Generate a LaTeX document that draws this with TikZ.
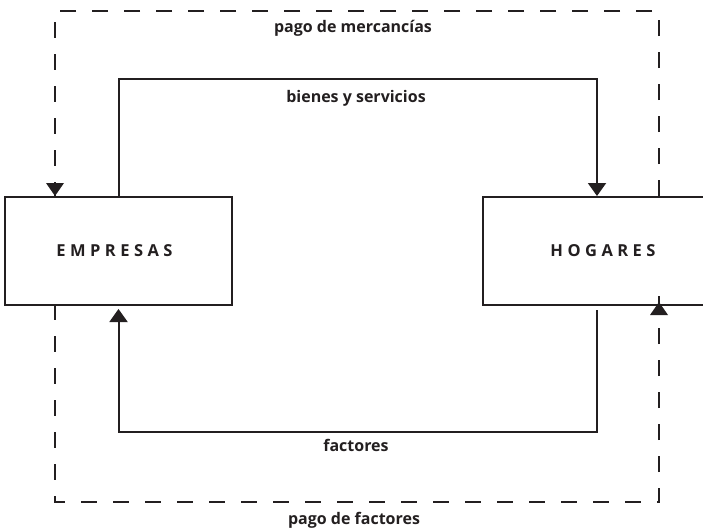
\documentclass[tikz,border=0pt]{standalone}
\usepackage{fontspec}
\setmainfont{Open Sans}
\usetikzlibrary{arrows.meta}
\definecolor{ink}{HTML}{231F20}
\begin{document}
\begin{tikzpicture}[x=1pt,y=-1pt,
  box/.style={draw=ink,line width=2pt,minimum height=108pt,inner sep=0pt,font=\fontsize{16.5}{18}\selectfont\bfseries\addfontfeature{LetterSpace=27},text=ink},
  flow/.style={draw=ink,line width=2pt,-{Triangle[width=18pt,length=13pt]}},
  dsh/.style={draw=ink,line width=2.4pt,dash pattern=on 16pt off 16pt},
  lbl/.style={font=\fontsize{16}{18}\selectfont\bfseries,text=ink,inner sep=0pt}]
\useasboundingbox (0,0) rectangle (703,530);
\node[box,minimum width=227pt] (emp) at (118.5,251) {\hspace*{-8pt}EMPRESAS};
\node[box,minimum width=242pt] (hog) at (604,251) {\hspace*{-2pt}HOGARES};
\coordinate (t1) at (118.5,79);
\coordinate (t2) at (597,79);
\coordinate (b1) at (118.5,432);
\coordinate (b2) at (597,432);
\coordinate (c1) at (55,11);
\coordinate (c2) at (659,11);
\coordinate (c3) at (55,502);
\coordinate (c4) at (659,502);
% bienes y servicios
\draw[flow] (emp.north) -- (t1) -- (t2) -- (t2 |- hog.north);
% factores
\draw[flow,shorten <=4pt,shorten >=3pt] (b2 |- hog.south) -- (b2) -- (b1) -- (emp.south);
% pago de mercancias
\draw[dsh] (c2 |- hog.north) -- (c2) -- (c1) -- ([yshift=-13pt]c1 |- emp.north);
\fill[ink] (c1 |- emp.north) -- ++(-9,-13) -- ++(18,0) -- cycle;
% pago de factores
\draw[dsh] ([yshift=2pt]c1 |- emp.south) -- (c3) -- (c4) -- ([yshift=17pt]c4 |- hog.south);
\fill[ink] ([yshift=4pt]c4 |- hog.south) -- ++(-9,13) -- ++(18,0) -- cycle;
% labels
\node[lbl] (l1) at (353,28) {pago de mercancías};
\node[lbl] (l2) at (356,98) {bienes y servicios};
\node[lbl] (l3) at (356,445) {factores};
\node[lbl] (l4) at (354,520) {pago de factores};
\end{tikzpicture}
\end{document}
